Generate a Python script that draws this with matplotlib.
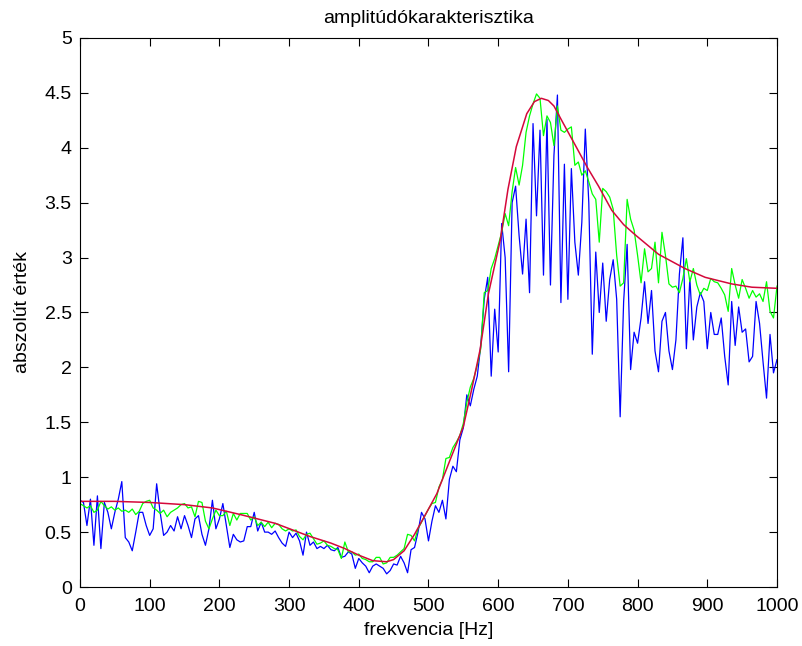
import numpy as np
import matplotlib
matplotlib.use("Agg")
import matplotlib.pyplot as plt
from matplotlib.ticker import FormatStrFormatter, MultipleLocator

plt.rcParams['font.family'] = ['Liberation Sans', 'DejaVu Sans']

# frekvencia lepes 5 Hz
frekvencia = np.arange(0, 1001, 5)

meres_kek = [
    0.79, 0.77, 0.56, 0.80, 0.38, 0.83, 0.35, 0.77, 0.68, 0.53,
    0.68, 0.80, 0.96, 0.45, 0.41, 0.33, 0.50, 0.68, 0.68, 0.56,
    0.47, 0.53, 0.94, 0.68, 0.47, 0.50, 0.56, 0.51, 0.64, 0.53,
    0.65, 0.56, 0.45, 0.62, 0.65, 0.48, 0.38, 0.53, 0.79, 0.53,
    0.62, 0.76, 0.56, 0.36, 0.48, 0.43, 0.41, 0.42, 0.55, 0.55,
    0.68, 0.51, 0.59, 0.50, 0.50, 0.48, 0.51, 0.45, 0.40, 0.37,
    0.50, 0.45, 0.49, 0.42, 0.29, 0.50, 0.38, 0.41, 0.35, 0.37,
    0.35, 0.38, 0.34, 0.33, 0.36, 0.27,
    0.28, 0.32, 0.30, 0.17, 0.26, 0.22, 0.19, 0.13, 0.19, 0.21,
    0.19, 0.17, 0.12, 0.15, 0.21, 0.20, 0.28, 0.22, 0.13, 0.34,
    0.36, 0.50, 0.68, 0.62, 0.42, 0.60, 0.74, 0.68, 0.79, 0.62,
    0.98, 1.10, 1.05, 1.34, 1.45, 1.75, 1.65, 1.80, 1.92, 2.20,
    2.62,
    2.82, 1.92, 2.53, 2.14, 3.31, 3.00, 1.96, 3.50, 3.65, 3.20,
    2.85, 3.35, 2.68, 4.22, 3.38, 4.16, 2.84, 4.26, 2.75, 3.93,
    4.48, 2.59, 3.85, 2.62, 3.81, 3.14, 2.84, 3.32, 4.17,
    3.50, 2.12, 3.05, 2.50, 2.95, 2.42, 2.80, 2.98, 2.62, 1.55,
    2.60, 3.12, 1.98, 2.32, 2.22, 2.45, 2.78, 2.40, 2.70, 2.15,
    1.96, 2.42, 2.50, 2.15, 1.98, 2.25, 2.85, 3.18,
    2.17, 2.81, 2.25, 2.55, 2.68, 2.60, 2.17, 2.50, 2.30, 2.30,
    2.45, 2.10, 1.84, 2.60, 2.20, 2.55, 2.32, 2.35, 2.05, 2.10,
    2.60, 2.40, 2.05, 1.72, 2.30, 1.95, 2.07,
]

meres_zold = [
    0.76, 0.74, 0.72, 0.74, 0.68, 0.70, 0.78, 0.74, 0.71, 0.73,
    0.70, 0.72, 0.69, 0.70, 0.68, 0.71, 0.66, 0.69, 0.76, 0.78,
    0.79, 0.72, 0.70, 0.67, 0.70, 0.64, 0.68, 0.70, 0.72, 0.75,
    0.76, 0.72, 0.73, 0.64, 0.78, 0.77, 0.60, 0.53, 0.62, 0.70,
    0.65, 0.65, 0.69, 0.56, 0.67, 0.61, 0.67, 0.67, 0.67, 0.61,
    0.64, 0.56, 0.59, 0.55, 0.59, 0.54, 0.58, 0.57, 0.53, 0.51,
    0.53, 0.51, 0.52, 0.46, 0.43, 0.48, 0.49, 0.44, 0.39, 0.40,
    0.42, 0.38, 0.37, 0.35, 0.34, 0.26,
    0.41, 0.32, 0.32, 0.29, 0.30, 0.26, 0.25, 0.23, 0.23, 0.27,
    0.27, 0.21, 0.22, 0.27, 0.27, 0.29, 0.32, 0.35, 0.48, 0.47,
    0.42, 0.53, 0.59, 0.65, 0.71, 0.76, 0.77, 0.91, 0.98, 1.17,
    1.18, 1.27, 1.32, 1.38, 1.49, 1.68, 1.82, 1.90, 2.02, 2.17,
    2.68, 2.70, 2.90, 2.99, 3.11, 3.23, 3.40, 3.29, 3.60, 3.82,
    3.66, 3.84, 4.14, 4.29, 4.40, 4.49, 4.45, 4.11, 4.29, 4.23,
    4.02, 4.38, 4.16, 4.14, 4.17, 4.19, 3.84, 3.87, 3.75, 3.79,
    3.69,
    3.58, 3.53, 3.14, 3.63, 3.60, 3.55, 3.44, 3.02, 2.74, 2.77,
    3.53, 3.35, 3.25, 3.02, 2.77, 3.08, 2.87, 2.90, 3.14, 2.77,
    3.23, 3.02, 2.76, 2.73, 2.74, 2.68, 2.81,
    2.99, 2.78, 2.90, 2.75, 2.66, 2.72, 2.70, 2.81, 2.78, 2.77,
    2.72, 2.66, 2.51, 2.90, 2.75, 2.63, 2.80, 2.72, 2.63, 2.70,
    2.64, 2.67, 2.60, 2.78, 2.51, 2.45, 2.74,
]

# elmeleti gorbe
frek_elm = [0, 50, 100, 150, 190, 230, 280, 330, 360, 380, 400, 420, 440,
            450, 465, 480, 500, 512, 533, 550, 562, 574, 586, 603, 614, 626,
            641, 652, 662, 672, 680, 691, 710, 728, 744, 763, 780, 796, 830,
            868, 897, 935, 964, 1000]
elmeleti = [0.78, 0.78, 0.77, 0.75, 0.72, 0.66, 0.58, 0.46, 0.40, 0.35, 0.29,
            0.24, 0.23, 0.25, 0.33, 0.48, 0.71, 0.85, 1.19, 1.46, 1.80, 2.16,
            2.67, 3.16, 3.62, 4.01, 4.31, 4.42, 4.45, 4.43, 4.38, 4.25, 4.03,
            3.82, 3.65, 3.43, 3.30, 3.21, 3.03, 2.90, 2.82, 2.76, 2.73, 2.72]

fig = plt.figure(figsize=(8.03, 6.46), dpi=100)
ax = fig.add_axes([0.0996, 0.0913, 0.868, 0.850])

ax.plot(frekvencia, meres_kek, color='#0000ff', lw=0.9)
ax.plot(frekvencia, meres_zold, color='#00ff00', lw=0.9)
ax.plot(frek_elm, elmeleti, color='#d4083a', lw=1.1)

ax.set_xlim(0, 1000)
ax.set_ylim(0, 5)
ax.xaxis.set_major_locator(MultipleLocator(100))
ax.yaxis.set_major_locator(MultipleLocator(0.5))
ax.yaxis.set_major_formatter(FormatStrFormatter('%g'))
ax.tick_params(direction='in', length=6, top=True, right=True, labelsize=14)
ax.tick_params(axis='x', pad=8)
ax.tick_params(axis='y', pad=6)

ax.set_title('amplitúdókarakterisztika', fontsize=14, pad=11)
ax.set_xlabel('frekvencia [Hz]', fontsize=14, labelpad=5)
ax.set_ylabel('abszolút érték', fontsize=14, labelpad=10)

fig.savefig('out.png', dpi=100)
